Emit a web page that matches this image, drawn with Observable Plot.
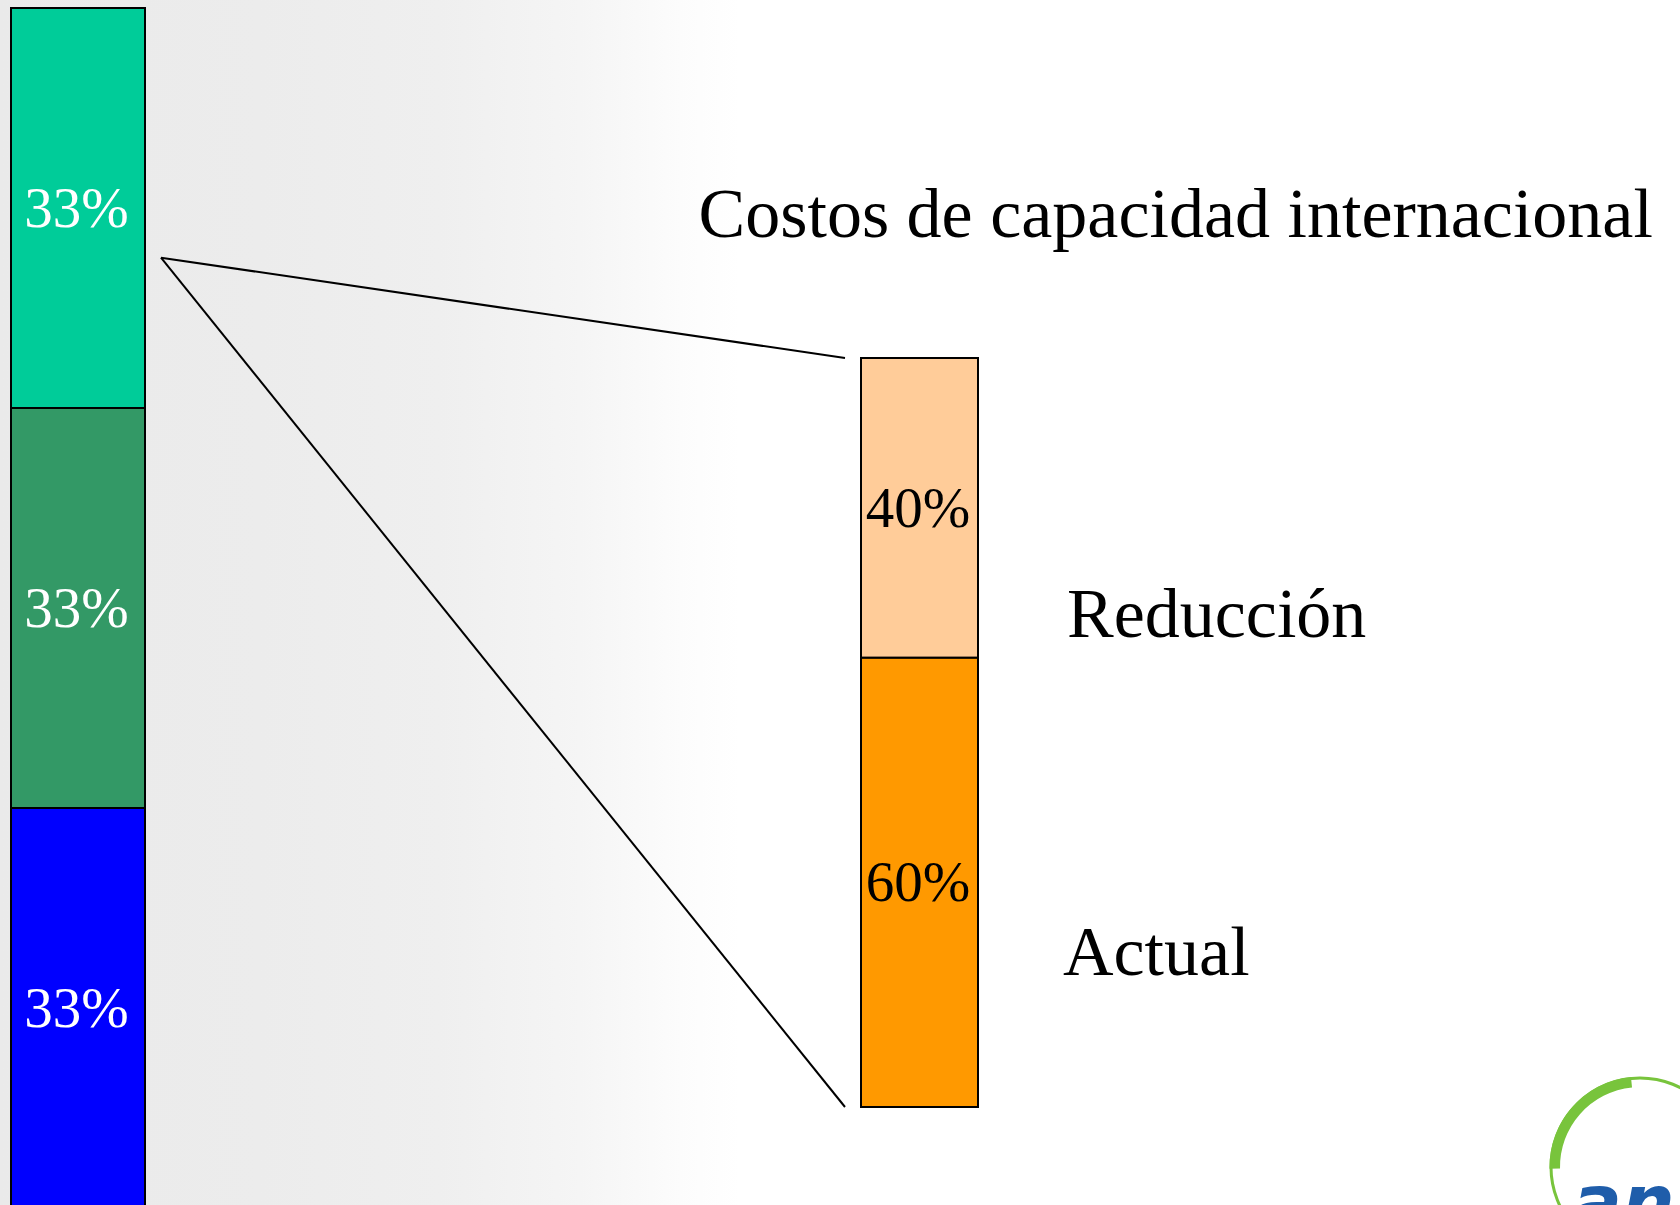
<!DOCTYPE html>
<html>
<head>
<meta charset="utf-8">
<script src="https://cdn.jsdelivr.net/npm/d3@7"></script>
<script src="https://cdn.jsdelivr.net/npm/@observablehq/plot@0.6"></script>
<style>
  html, body { margin: 0; padding: 0; overflow: hidden; background: #ffffff; }
  #stage {
    position: relative; width: 1680px; height: 1205px; overflow: hidden;
    background: linear-gradient(to right, #eaeaea 0px, #ececec 260px, #efefef 440px, #f5f5f5 580px, #fcfcfc 680px, #ffffff 740px);
  }
  #stage > svg { position: absolute; left: 0; top: 0; }
</style>
</head>
<body>
<div id="stage"></div>
<script>
// ---------------- data ----------------
const chartTitle = "Costos de capacidad internacional";
const leftBarName = "Total";
const leftKeys = ["Segmento 1", "Segmento 2", "Segmento 3"];   // bottom -> top
const leftValues = [33, 33, 33];
const leftColors = ["#0000FF", "#339966", "#00CC99"];

const rightBarName = "Costos de capacidad internacional";
const rightKeys = ["Actual", "Reducción"];                     // bottom -> top
const rightValues = [60, 40];
const rightColors = ["#FF9900", "#FFCC99"];

// where, on the left bar (cumulative %), the callout lines start
const calloutAt = 78.4;

// ---------------- tables ----------------
const leftData = leftKeys.map((k, i) => ({bar: leftBarName, key: k, value: leftValues[i]}));
const rightData = rightKeys.map((k, i) => ({bar: rightBarName, key: k, value: rightValues[i]}));

const font = "'Liberation Serif', 'Times New Roman', Times, serif";
const stage = document.getElementById("stage");

// ---------------- left stacked bar ----------------
const plotA = Plot.plot({
  width: 1680, height: 1205, margin: 0,
  style: {background: "transparent", fontFamily: font},
  x: {type: "band", domain: [leftBarName], range: [11, 145], padding: 0, axis: null},
  y: {domain: [0, 99], range: [1208, 8], axis: null},
  color: {domain: leftKeys, range: leftColors},
  marks: [
    Plot.barY(leftData, {x: "bar", y: "value", fill: "key", stroke: "black", strokeWidth: 2}),
    Plot.text(leftData, Plot.stackY({x: "bar", y: "value", text: d => d.value + "%", fill: "white", fontSize: 57, dx: -2}))
  ]
});
stage.appendChild(plotA);

// ---------------- callout lines (use both plots' scales) ----------------
function connectors(index, scales) {
  const xA = plotA.scale("x"), yA = plotA.scale("y");
  const ax = (xA.apply ? xA.apply(leftBarName) : xA.range[0]) + xA.bandwidth + 16;
  const ay = yA.apply ? yA.apply(calloutAt) : 0;
  const bx = scales.x(rightBarName) - 16;
  const g = d3.create("svg:g").attr("stroke", "black").attr("stroke-width", 2).attr("fill", "none");
  for (const v of [d3.sum(rightValues), 0]) {
    g.append("line").attr("x1", ax).attr("y1", ay).attr("x2", bx).attr("y2", scales.y(v));
  }
  return g.node();
}

// ---------------- right stacked bar ----------------
const plotB = Plot.plot({
  width: 1680, height: 1205, margin: 0,
  style: {background: "transparent", fontFamily: font},
  x: {type: "band", domain: [rightBarName], range: [861, 978], padding: 0, axis: null},
  y: {domain: [0, 100], range: [1107, 358], axis: null},
  color: {domain: rightKeys, range: rightColors},
  marks: [
    connectors,
    Plot.barY(rightData, {x: "bar", y: "value", fill: "key", stroke: "black", strokeWidth: 2}),
    Plot.text(rightData, Plot.stackY({x: "bar", y: "value", text: d => d.value + "%", fill: "black", fontSize: 57, dx: -2})),
    Plot.text(rightData, Plot.stackY({x: "bar", y: "value", text: d => d.key === "Reducción" ? d.key : "",
      textAnchor: "start", dx: 147, dy: 106, fontSize: 70, fill: "black"})),
    Plot.text(rightData, Plot.stackY({x: "bar", y: "value", text: d => d.key === "Actual" ? d.key : "",
      textAnchor: "start", dx: 143, dy: 70, fontSize: 70, fill: "black"})),
    Plot.text([chartTitle], {text: d => d, frameAnchor: "top-left", lineAnchor: "middle", textAnchor: "start",
      dx: 698, dy: 214, fontSize: 70, fill: "black"})
  ]
});
stage.appendChild(plotB);

// ---------------- corner logo (decoration) ----------------
const logo = d3.create("svg").attr("width", 1680).attr("height", 1205).style("position", "absolute").style("left", 0).style("top", 0);
const cx = 1640, cy = 1167;
logo.append("circle").attr("cx", cx).attr("cy", cy).attr("r", 89).attr("fill", "none").attr("stroke", "#78C43C").attr("stroke-width", 3);
logo.append("path").attr("transform", `translate(${cx},${cy})`)
  .attr("d", d3.arc()({innerRadius: 80, outerRadius: 90.5, startAngle: -Math.PI / 2 - 0.02, endAngle: -0.1}))
  .attr("fill", "#78C43C");
logo.append("text").attr("x", 1572).attr("y", 1228).attr("font-family", "'DejaVu Sans', sans-serif")
  .attr("font-weight", "bold").attr("font-style", "italic").attr("font-size", 74).attr("fill", "#1F5DAA").text("an");
stage.appendChild(logo.node());
</script>
</body>
</html>
